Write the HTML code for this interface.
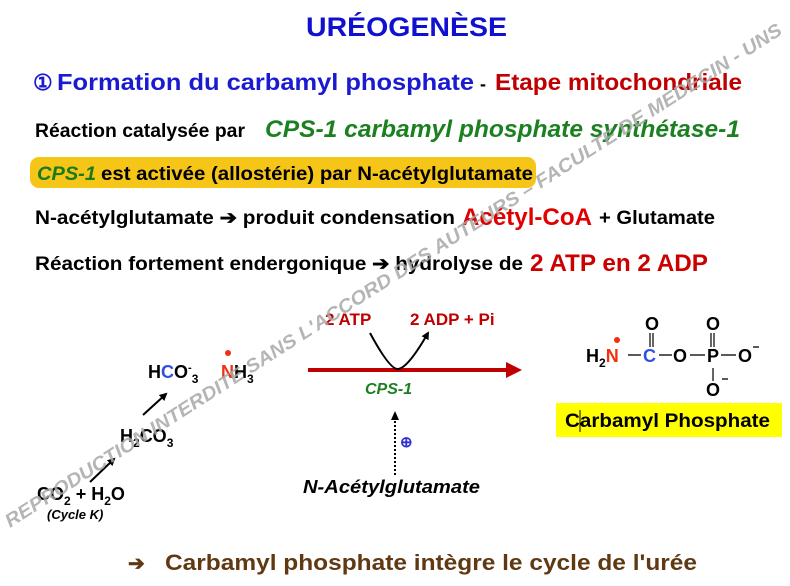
<!DOCTYPE html>
<html><head><meta charset="utf-8"><style>
html,body{margin:0;padding:0;background:#fff;width:790px;height:586px;overflow:hidden}
svg{display:block}
text{font-family:"Liberation Sans",Arial,sans-serif;font-weight:bold}
</style></head><body>
<svg width="790" height="586" viewBox="0 0 790 586" xmlns="http://www.w3.org/2000/svg">
<defs>
<marker id="ab" markerWidth="8" markerHeight="8" refX="6" refY="4" orient="auto" markerUnits="userSpaceOnUse"><path d="M0,0 L8,4 L0,8 Z" fill="#000"/></marker>
</defs>
<text x="306" y="36" font-size="27" fill="#1010d0" textLength="201" lengthAdjust="spacingAndGlyphs">URÉOGENÈSE</text>
<text x="33" y="90" font-size="22" fill="#1a1ad0">①</text>
<text x="57" y="90" font-size="23" fill="#1a1ad0" textLength="417" lengthAdjust="spacingAndGlyphs">Formation du carbamyl phosphate</text>
<text x="480" y="90" font-size="18" fill="#000">-</text>
<text x="495" y="90" font-size="23" fill="#c00000" textLength="247" lengthAdjust="spacingAndGlyphs">Etape mitochondriale</text>
<text x="35" y="137" font-size="19" fill="#000" textLength="210" lengthAdjust="spacingAndGlyphs">Réaction catalysée par</text>
<text x="265" y="137" font-size="24" font-style="italic" fill="#1a8020" textLength="475" lengthAdjust="spacingAndGlyphs">CPS-1 carbamyl phosphate synthétase-1</text>
<rect x="30" y="157" width="506" height="31" rx="9" fill="#f5c518"/>
<text x="37" y="180" font-size="19" font-style="italic" fill="#1a7a1a" textLength="59" lengthAdjust="spacingAndGlyphs">CPS-1</text>
<text x="101" y="180" font-size="19" fill="#000" textLength="432" lengthAdjust="spacingAndGlyphs">est activée (allostérie) par N-acétylglutamate</text>
<text x="35" y="224" font-size="19" fill="#000" textLength="420" lengthAdjust="spacingAndGlyphs">N-acétylglutamate ➔ produit condensation</text>
<text x="462" y="225" font-size="24" fill="#e00000" textLength="130" lengthAdjust="spacingAndGlyphs">Acétyl-CoA</text>
<text x="599" y="224" font-size="19" fill="#000" textLength="116" lengthAdjust="spacingAndGlyphs">+ Glutamate</text>
<text x="35" y="270" font-size="19" fill="#000" textLength="488" lengthAdjust="spacingAndGlyphs">Réaction fortement endergonique ➔ hydrolyse de</text>
<text x="530" y="271" font-size="24" fill="#cc0000" textLength="178" lengthAdjust="spacingAndGlyphs">2 ATP en 2 ADP</text>

<!-- diagram left -->
<text x="148" y="378" font-size="18" fill="#000">H<tspan fill="#3050e0">C</tspan>O<tspan font-size="11" dy="-7">-</tspan><tspan font-size="12" dy="12">3</tspan></text>
<circle cx="228" cy="353" r="3" fill="#f03010"/>
<text x="221" y="378" font-size="18" fill="#000"><tspan fill="#f03010">N</tspan>H<tspan font-size="12" dy="5">3</tspan></text>
<line x1="143" y1="415" x2="166" y2="394" stroke="#000" stroke-width="2" marker-end="url(#ab)"/>
<text x="120" y="442" font-size="18" fill="#000">H<tspan font-size="12" dy="5">2</tspan><tspan dy="-5">CO</tspan><tspan font-size="12" dy="5">3</tspan></text>
<line x1="90" y1="482" x2="114" y2="459" stroke="#000" stroke-width="2" marker-end="url(#ab)"/>
<text x="37" y="500" font-size="18" fill="#000">CO<tspan font-size="12" dy="5">2</tspan><tspan dy="-5"> + H</tspan><tspan font-size="12" dy="5">2</tspan><tspan dy="-5">O</tspan></text>
<text x="47" y="519" font-size="13" font-style="italic" fill="#000">(Cycle K)</text>

<!-- center -->
<text x="325" y="325" font-size="17" fill="#c00000">2 ATP</text>
<text x="410" y="325" font-size="17" fill="#c00000">2 ADP + Pi</text>
<line x1="308" y1="370" x2="508" y2="370" stroke="#c00000" stroke-width="4"/>
<path d="M506,362 L522,370 L506,378 Z" fill="#c00000"/>
<path d="M370,333 Q390,370 398,369 Q408,368 428,333" fill="none" stroke="#000" stroke-width="2" marker-end="url(#ab)"/>
<text x="365" y="394" font-size="16" font-style="italic" fill="#1a8020">CPS-1</text>
<line x1="395" y1="475" x2="395" y2="418" stroke="#000" stroke-width="2" stroke-dasharray="2,2"/>
<path d="M391,420 L395,411 L399,420 Z" fill="#000"/>
<text x="400" y="447" font-size="15" font-weight="normal" fill="#3030d0">⊕</text>
<text x="303" y="493" font-size="18" font-style="italic" fill="#000" textLength="177" lengthAdjust="spacingAndGlyphs">N-Acétylglutamate</text>

<!-- right structure -->
<circle cx="617" cy="340" r="3" fill="#f03010"/>
<text x="586" y="362" font-size="18" fill="#000">H<tspan font-size="12" dy="5">2</tspan><tspan dy="-5" fill="#f03010">N</tspan></text>
<line x1="628" y1="355" x2="641" y2="355" stroke="#000" stroke-width="1.3"/>
<text x="643" y="362" font-size="18" fill="#3050e0">C</text>
<text x="645" y="330" font-size="18" fill="#000">O</text>
<line x1="650" y1="333" x2="650" y2="347" stroke="#000" stroke-width="1.2"/>
<line x1="653" y1="333" x2="653" y2="347" stroke="#000" stroke-width="1.2"/>
<line x1="659" y1="355" x2="672" y2="355" stroke="#000" stroke-width="1.3"/>
<text x="673" y="362" font-size="18" fill="#000">O</text>
<line x1="690" y1="355" x2="705" y2="355" stroke="#000" stroke-width="1.3"/>
<text x="707" y="362" font-size="18" fill="#000">P</text>
<text x="706" y="330" font-size="18" fill="#000">O</text>
<line x1="711" y1="333" x2="711" y2="347" stroke="#000" stroke-width="1.2"/>
<line x1="714" y1="333" x2="714" y2="347" stroke="#000" stroke-width="1.2"/>
<line x1="721" y1="355" x2="736" y2="355" stroke="#000" stroke-width="1.3"/>
<text x="738" y="362" font-size="18" fill="#000">O</text>
<line x1="753" y1="347" x2="759" y2="347" stroke="#000" stroke-width="1.3"/>
<line x1="713" y1="368" x2="713" y2="381" stroke="#000" stroke-width="1.2"/>
<text x="706" y="396" font-size="18" fill="#000">O</text>
<line x1="722" y1="379" x2="728" y2="379" stroke="#000" stroke-width="1.3"/>
<rect x="556" y="403" width="226" height="34" fill="#ffff00"/>
<text x="565" y="427" font-size="19" fill="#000" textLength="205" lengthAdjust="spacingAndGlyphs">Carbamyl Phosphate</text>
<line x1="580" y1="410" x2="580" y2="432" stroke="#000" stroke-width="1"/>

<text x="128" y="570" font-size="20" fill="#603913">➔</text>
<text x="165" y="570" font-size="22" fill="#603913" textLength="532" lengthAdjust="spacingAndGlyphs">Carbamyl phosphate intègre le cycle de l'urée</text>

<text x="0" y="0" font-size="19" font-style="italic" fill="#a8a8a8" fill-opacity="0.85" textLength="918" lengthAdjust="spacingAndGlyphs" transform="translate(10,528) rotate(-32.6)">REPRODUCTION INTERDITE SANS L'ACCORD DES AUTEURS – FACULTE DE MEDECIN - UNS</text>
</svg>
</body></html>
